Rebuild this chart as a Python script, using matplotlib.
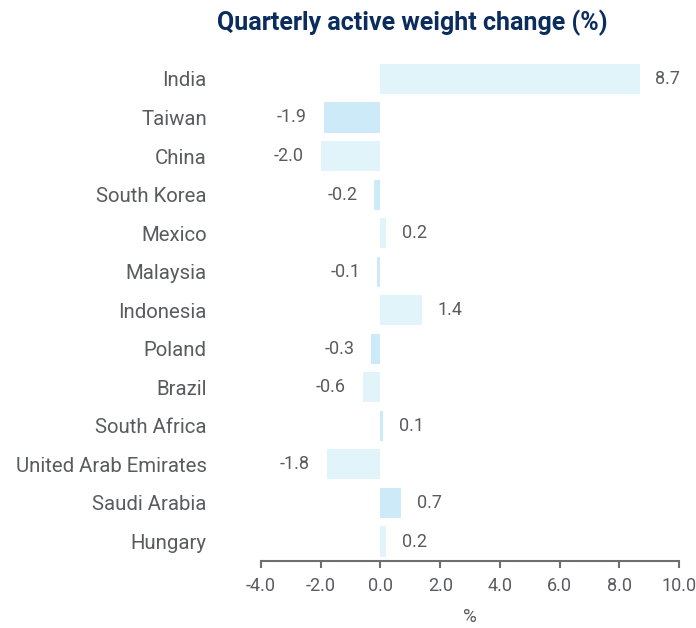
import matplotlib
matplotlib.use("Agg")
import matplotlib.pyplot as plt
from matplotlib import font_manager

countries = ["India", "Taiwan", "China", "South Korea", "Mexico", "Malaysia",
             "Indonesia", "Poland", "Brazil", "South Africa",
             "United Arab Emirates", "Saudi Arabia", "Hungary"]
values = [8.7, -1.9, -2.0, -0.2, 0.2, -0.1, 1.4, -0.3, -0.6, 0.1, -1.8, 0.7, 0.2]
xticks = [-4.0, -2.0, 0.0, 2.0, 4.0, 6.0, 8.0, 10.0]
title = "Quarterly active weight change (%)"
xlabel = "%"

avail = {f.name for f in font_manager.fontManager.ttflist}
fam = "Liberation Sans Narrow" if "Liberation Sans Narrow" in avail else "Roboto"
plt.rcParams['font.family'] = [fam, "DejaVu Sans"]

text_c = "#5a5b5e"
colors = ["#e1f4fa" if i % 2 == 0 else "#cceaf8" for i in range(len(values))]

fig = plt.figure(figsize=(6.96, 6.28), dpi=100)
ax = fig.add_axes([0.375, 0.107, 0.6006, 0.798])
y = list(range(len(countries)))
ax.barh(y, values, height=0.78, color=colors, zorder=2)
ax.set_ylim(len(countries) - 0.5, -0.5)
ax.set_xlim(-4, 10)
ax.set_yticks(y)
ax.set_yticklabels(countries, fontsize=14.7, color=text_c)
ax.set_xticks(xticks)
ax.set_xticklabels([f"{t:.1f}" for t in xticks], fontsize=13, color=text_c)
ax.tick_params(axis='y', length=0, pad=39)
ax.tick_params(axis='x', length=5, width=1.5, color="#6d6e71", pad=7)
for s in ["top", "right", "left"]:
    ax.spines[s].set_visible(False)
ax.spines["bottom"].set_color("#6d6e71")
ax.spines["bottom"].set_linewidth(1.5)
ax.set_xlabel(xlabel, fontsize=13.5, color=text_c, labelpad=9)

for yi, v in zip(y, values):
    if v >= 0:
        ax.annotate(f"{v:.1f}", (v, yi), xytext=(11, 0), textcoords="offset points",
                    ha="left", va="center", fontsize=13, color=text_c)
    else:
        ax.annotate(f"{v:.1f}", (v, yi), xytext=(-12, 0), textcoords="offset points",
                    ha="right", va="center", fontsize=13, color=text_c)

fig.text(0.592, 0.963, title, ha="center", va="center", fontsize=18,
         fontweight="bold", color="#0b2d5e")

fig.savefig("out.png", dpi=100)
